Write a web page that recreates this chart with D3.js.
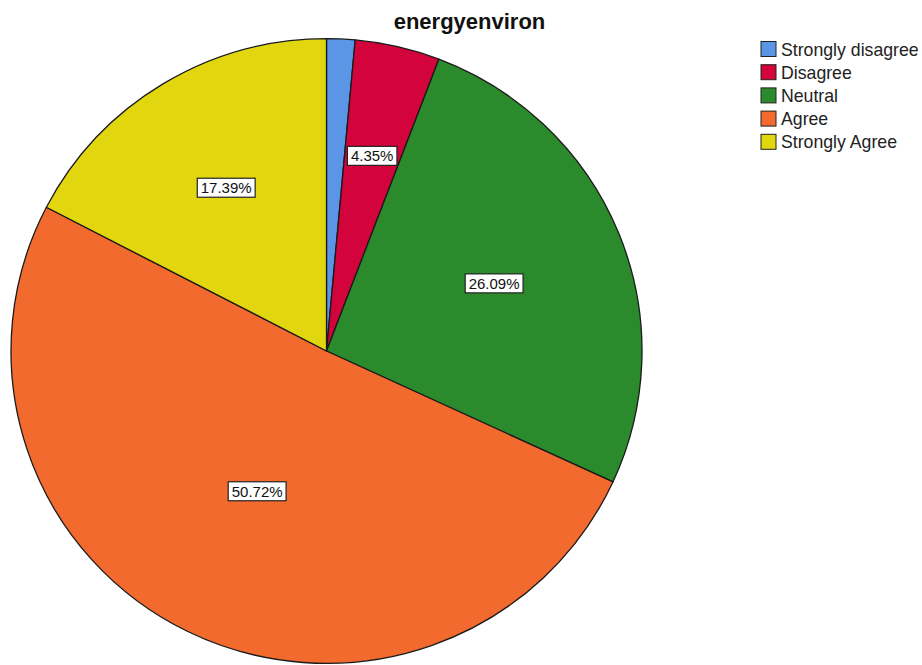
<!DOCTYPE html>
<html>
<head>
<meta charset="utf-8">
<script src="https://cdn.jsdelivr.net/npm/d3@7"></script>
<style>
  html, body { margin: 0; padding: 0; background: #ffffff; }
  svg { display: block; font-family: Arial, "Liberation Sans", sans-serif; }
</style>
</head>
<body>
<svg id="chart" width="922" height="665"></svg>
<script>
// Responses to "energyenviron" (n = 69)
const categories = ["Strongly disagree", "Disagree", "Neutral", "Agree", "Strongly Agree"];
const counts = [1, 3, 18, 35, 12];
const percentLabels = ["1.45%", "4.35%", "26.09%", "50.72%", "17.39%"];
const showLabel = [false, true, true, true, true];
const sliceColors = ["#5b95e6", "#d3033b", "#2b8a2b", "#f26a2d", "#e2d70f"];
const chartTitle = "energyenviron";

const svg = d3.select("#chart");

const cx = 326.5, cy = 351, radius = 315.5;

const color = d3.scaleOrdinal().domain(categories).range(sliceColors);

const pie = d3.pie().sort(null).value(d => d.count);
const data = categories.map((c, i) => ({ category: c, count: counts[i], label: percentLabels[i], show: showLabel[i] }));
const arcs = pie(data);

const arc = d3.arc().innerRadius(0).outerRadius(radius);

const g = svg.append("g").attr("transform", `translate(${cx},${cy}) scale(1,0.99)`);

g.selectAll("path.slice")
  .data(arcs)
  .join("path")
  .attr("class", "slice")
  .attr("d", arc)
  .attr("fill", d => color(d.data.category))
  .attr("stroke", "#1a1a1a")
  .attr("stroke-width", 1.3)
  .attr("stroke-linejoin", "round");

// Label placement: near the sector's centre of mass, never closer than half the radius
function labelRadius(d) {
  const theta = d.endAngle - d.startAngle;
  const centroid = 4 * radius * Math.sin(theta / 2) / (3 * theta);
  return Math.max(0.965 * centroid, 0.5 * radius);
}

const labels = g.selectAll("g.lbl")
  .data(arcs.filter(d => d.data.show))
  .join("g")
  .attr("class", "lbl")
  .attr("transform", d => {
    const a = (d.startAngle + d.endAngle) / 2;
    const r = labelRadius(d);
    return `translate(${r * Math.sin(a)},${-r * Math.cos(a)}) scale(1,${1 / 0.99})`;
  });

labels.each(function(d) {
  const grp = d3.select(this);
  const t = grp.append("text")
    .attr("text-anchor", "middle")
    .attr("dominant-baseline", "central")
    .attr("font-size", 15)
    .attr("fill", "#111")
    .text(d.data.label);
  const bb = t.node().getBBox();
  grp.insert("rect", "text")
    .attr("x", bb.x - 3.5)
    .attr("y", -9.5)
    .attr("width", bb.width + 7)
    .attr("height", 19)
    .attr("fill", "#ffffff")
    .attr("stroke", "#222")
    .attr("stroke-width", 1.2);
});

// Title
svg.append("text")
  .attr("x", 469.5)
  .attr("y", 29)
  .attr("text-anchor", "middle")
  .attr("font-size", 22)
  .attr("font-weight", "bold")
  .attr("fill", "#111")
  .text(chartTitle);

// Legend
const legendY = d3.scalePoint().domain(categories).range([49, 141.8]);
const legend = svg.append("g").attr("class", "legend");
const items = legend.selectAll("g")
  .data(categories)
  .join("g")
  .attr("transform", c => `translate(761,${legendY(c)})`);

items.append("rect")
  .attr("x", 0)
  .attr("y", -7.5)
  .attr("width", 15)
  .attr("height", 15)
  .attr("fill", c => color(c))
  .attr("stroke", "#222")
  .attr("stroke-width", 1);

items.append("text")
  .attr("x", 20)
  .attr("y", 0.5)
  .attr("dominant-baseline", "central")
  .attr("font-size", 17.7)
  .attr("fill", "#222")
  .text(c => c);
</script>
</body>
</html>
